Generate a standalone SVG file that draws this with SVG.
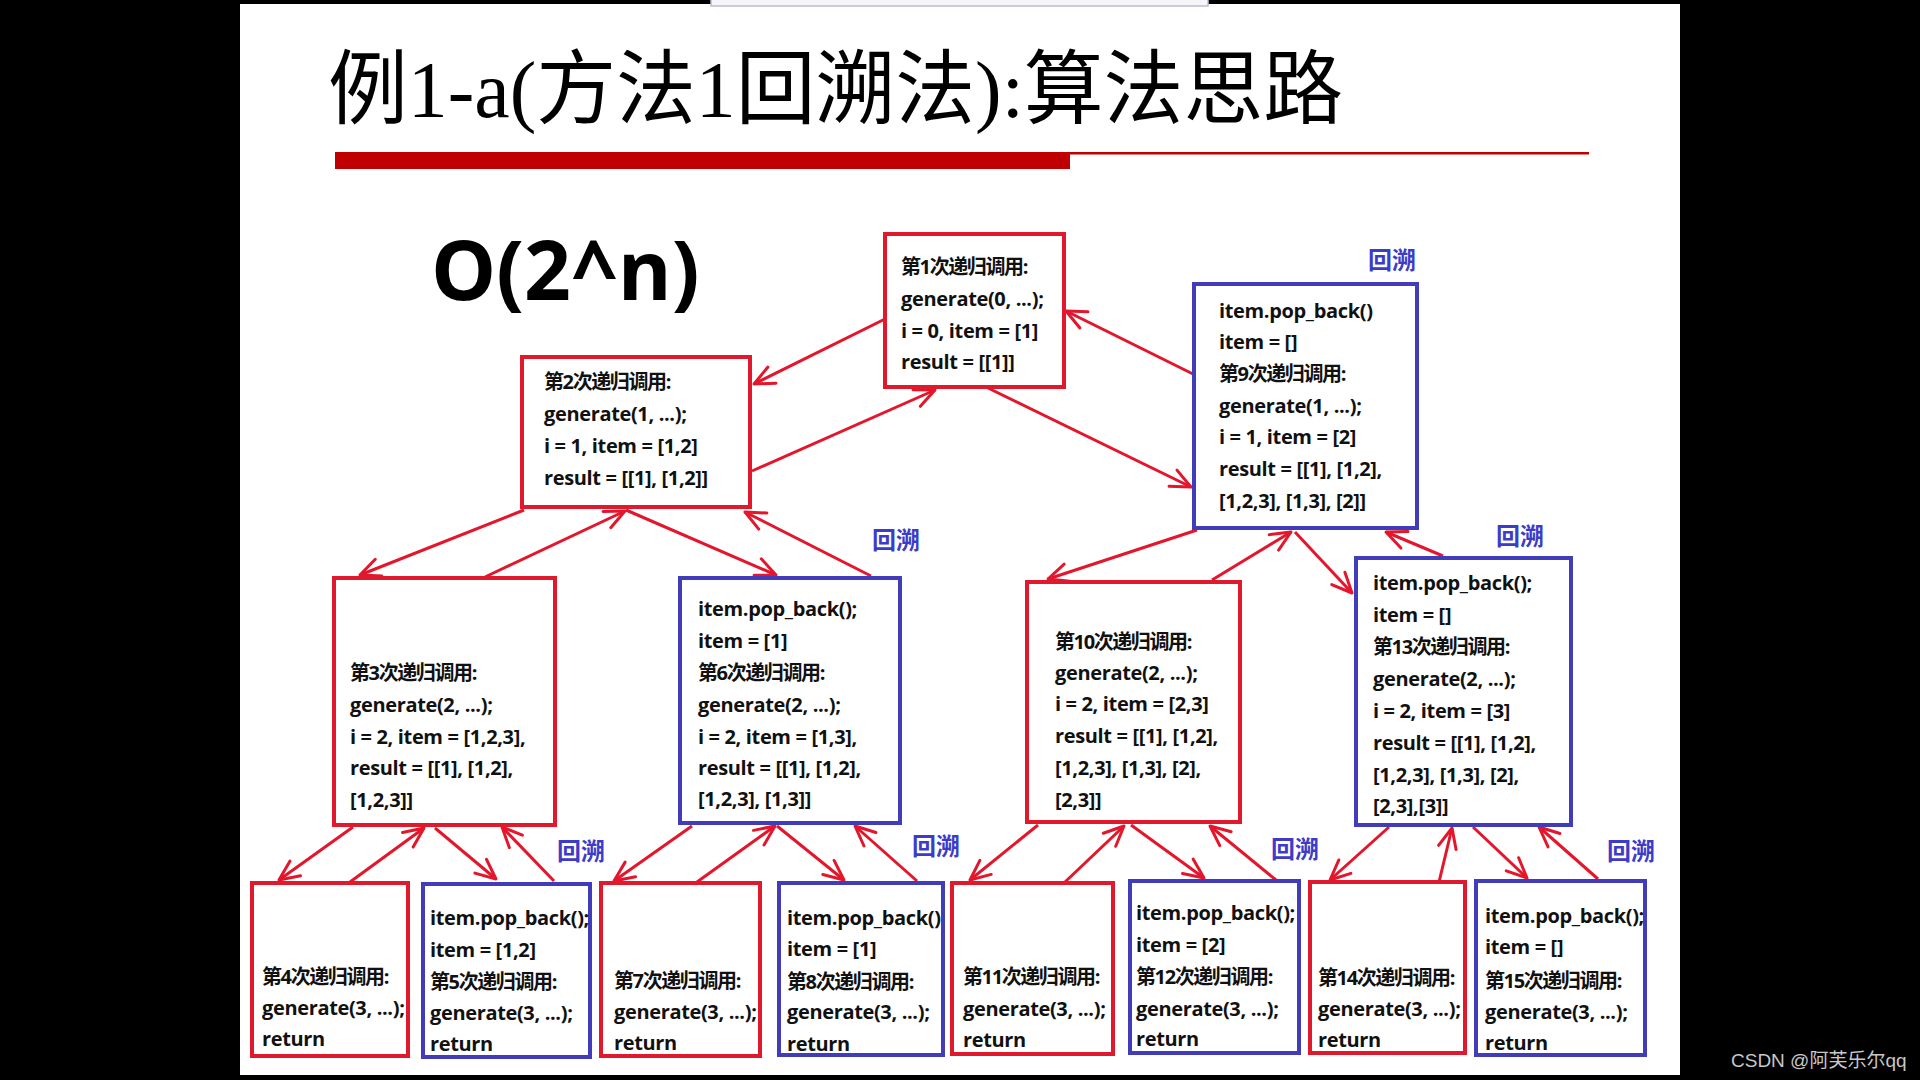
<svg xmlns="http://www.w3.org/2000/svg" width="1920" height="1080" viewBox="0 0 1920 1080">
<style>
.bg{fill:#000}
.slide{fill:#fff}
.title{font-family:"Liberation Serif","Noto Sans CJK SC",serif;font-size:81px;fill:#000}
.big{font-family:"Open Sans","Liberation Sans",sans-serif;font-weight:bold;font-size:82px;fill:#000}
.rbox{fill:#fff;stroke:#E0192D;stroke-width:4}
.bbox{fill:#fff;stroke:#413CB9;stroke-width:4}
.t{font-family:"Open Sans","Noto Sans CJK SC",sans-serif;font-weight:bold;font-size:20px;letter-spacing:-0.35px;fill:#111}
.c{letter-spacing:-1.4px}
.lbl{font-family:"Noto Sans CJK SC",sans-serif;font-weight:bold;font-size:24px;fill:#3C3CC8}
.arr{stroke:#E3162C;stroke-width:3;fill:none;marker-end:url(#ah)}
.wm{font-family:"Liberation Sans","Noto Sans CJK SC",sans-serif;font-size:19px;fill:#c8c8c8}
</style>
<defs>
<marker id="ah" markerUnits="userSpaceOnUse" viewBox="-24 -13 28 26" markerWidth="28" markerHeight="26" refX="0" refY="0" orient="auto" overflow="visible">
<path d="M-20,-9 L0,0 L-20,9" fill="none" stroke="#E3162C" stroke-width="3" stroke-linecap="round" stroke-linejoin="round"/>
</marker>
</defs>
<rect class="bg" x="0" y="0" width="1920" height="1080"/>
<rect class="slide" x="240" y="4" width="1440" height="1071"/>
<rect x="711" y="-2" width="497" height="8" fill="#f6f6fa" stroke="#bcbcd2" stroke-width="1.5"/>

<g id="title">
<text class="title" x="328" y="117" textLength="1015" lengthAdjust="spacingAndGlyphs">例1-a(方法1回溯法):算法思路</text>
<rect x="335" y="152" width="735" height="17" fill="#C00000"/>
<rect x="1070" y="152" width="519" height="2.5" fill="#C00000"/>
</g>

<g id="complexity">
<text class="big" x="431" y="300">O(2^n)</text>
</g>

<g id="connectors">
<line class="arr" x1="885" y1="319" x2="754" y2="384"/>
<line class="arr" x1="752" y1="471" x2="935" y2="390"/>
<line class="arr" x1="988" y1="388" x2="1191" y2="487"/>
<line class="arr" x1="1193" y1="374" x2="1066" y2="311"/>
<line class="arr" x1="524" y1="510" x2="360" y2="575"/>
<line class="arr" x1="485" y1="577" x2="625" y2="511"/>
<line class="arr" x1="626" y1="510" x2="776" y2="575"/>
<line class="arr" x1="871" y1="576" x2="745" y2="512"/>
<line class="arr" x1="1197" y1="530" x2="1048" y2="579"/>
<line class="arr" x1="1212" y1="580" x2="1291" y2="532"/>
<line class="arr" x1="1295" y1="532" x2="1352" y2="593"/>
<line class="arr" x1="1443" y1="556" x2="1386" y2="532"/>
<line class="arr" x1="353" y1="827" x2="279" y2="880"/>
<line class="arr" x1="350" y1="882" x2="424" y2="828"/>
<line class="arr" x1="435" y1="828" x2="496" y2="879"/>
<line class="arr" x1="554" y1="881" x2="502" y2="827"/>
<line class="arr" x1="692" y1="826" x2="614" y2="881"/>
<line class="arr" x1="697" y1="882" x2="775" y2="826"/>
<line class="arr" x1="777" y1="826" x2="844" y2="880"/>
<line class="arr" x1="917" y1="881" x2="855" y2="826"/>
<line class="arr" x1="1038" y1="825" x2="970" y2="880"/>
<line class="arr" x1="1065" y1="882" x2="1124" y2="826"/>
<line class="arr" x1="1131" y1="825" x2="1204" y2="878"/>
<line class="arr" x1="1276" y1="880" x2="1210" y2="826"/>
<line class="arr" x1="1389" y1="827" x2="1330" y2="880"/>
<line class="arr" x1="1439" y1="882" x2="1452" y2="828"/>
<line class="arr" x1="1473" y1="827" x2="1527" y2="878"/>
<line class="arr" x1="1598" y1="879" x2="1539" y2="827"/>
</g>

<g id="labels">
<text class="lbl" x="1368" y="269">回溯</text>
<text class="lbl" x="872" y="549">回溯</text>
<text class="lbl" x="1496" y="545">回溯</text>
<text class="lbl" x="557" y="860">回溯</text>
<text class="lbl" x="912" y="855">回溯</text>
<text class="lbl" x="1271" y="858">回溯</text>
<text class="lbl" x="1607" y="860">回溯</text>
</g>

<g id="call1">
<rect class="rbox" x="885" y="234" width="179" height="153"/>
<text class="t c" x="901" y="274">第1次递归调用:</text>
<text class="t" x="901" y="306">generate(0, ...);</text>
<text class="t" x="901" y="338">i = 0, item = [1]</text>
<text class="t" x="901" y="369">result = [[1]]</text>
</g>

<g id="call2">
<rect class="rbox" x="522" y="357" width="228" height="150"/>
<text class="t c" x="544" y="389">第2次递归调用:</text>
<text class="t" x="544" y="421">generate(1, ...);</text>
<text class="t" x="544" y="453">i = 1, item = [1,2]</text>
<text class="t" x="544" y="485">result = [[1], [1,2]]</text>
</g>

<g id="call9">
<rect class="bbox" x="1194" y="284" width="223" height="244"/>
<text class="t" x="1219" y="318">item.pop_back()</text>
<text class="t" x="1219" y="349">item = []</text>
<text class="t c" x="1219" y="381">第9次递归调用:</text>
<text class="t" x="1219" y="413">generate(1, ...);</text>
<text class="t" x="1219" y="444">i = 1, item = [2]</text>
<text class="t" x="1219" y="476">result = [[1], [1,2],</text>
<text class="t" x="1219" y="508">[1,2,3], [1,3], [2]]</text>
</g>

<g id="call3">
<rect class="rbox" x="334" y="578" width="221" height="247"/>
<text class="t c" x="350" y="680">第3次递归调用:</text>
<text class="t" x="350" y="712">generate(2, ...);</text>
<text class="t" x="350" y="744">i = 2, item = [1,2,3],</text>
<text class="t" x="350" y="775">result = [[1], [1,2],</text>
<text class="t" x="350" y="807">[1,2,3]]</text>
</g>

<g id="call6">
<rect class="bbox" x="680" y="578" width="220" height="245"/>
<text class="t" x="698" y="616">item.pop_back();</text>
<text class="t" x="698" y="648">item = [1]</text>
<text class="t c" x="698" y="680">第6次递归调用:</text>
<text class="t" x="698" y="712">generate(2, ...);</text>
<text class="t" x="698" y="744">i = 2, item = [1,3],</text>
<text class="t" x="698" y="775">result = [[1], [1,2],</text>
<text class="t" x="698" y="806">[1,2,3], [1,3]]</text>
</g>

<g id="call10">
<rect class="rbox" x="1027" y="582" width="213" height="240"/>
<text class="t c" x="1055" y="649">第10次递归调用:</text>
<text class="t" x="1055" y="680">generate(2, ...);</text>
<text class="t" x="1055" y="711">i = 2, item = [2,3]</text>
<text class="t" x="1055" y="743">result = [[1], [1,2],</text>
<text class="t" x="1055" y="775">[1,2,3], [1,3], [2],</text>
<text class="t" x="1055" y="807">[2,3]]</text>
</g>

<g id="call13">
<rect class="bbox" x="1356" y="558" width="215" height="267"/>
<text class="t" x="1373" y="590">item.pop_back();</text>
<text class="t" x="1373" y="622">item = []</text>
<text class="t c" x="1373" y="654">第13次递归调用:</text>
<text class="t" x="1373" y="686">generate(2, ...);</text>
<text class="t" x="1373" y="718">i = 2, item = [3]</text>
<text class="t" x="1373" y="750">result = [[1], [1,2],</text>
<text class="t" x="1373" y="782">[1,2,3], [1,3], [2],</text>
<text class="t" x="1373" y="813">[2,3],[3]]</text>
</g>

<g id="call4">
<rect class="rbox" x="252" y="883" width="156" height="173"/>
<text class="t c" x="262" y="984">第4次递归调用:</text>
<text class="t" x="262" y="1015">generate(3, ...);</text>
<text class="t" x="262" y="1046">return</text>
</g>

<g id="call5">
<rect class="bbox" x="423" y="884" width="167" height="173"/>
<text class="t" x="430" y="925">item.pop_back();</text>
<text class="t" x="430" y="957">item = [1,2]</text>
<text class="t c" x="430" y="989">第5次递归调用:</text>
<text class="t" x="430" y="1020">generate(3, ...);</text>
<text class="t" x="430" y="1051">return</text>
</g>

<g id="call7">
<rect class="rbox" x="601" y="883" width="159" height="173"/>
<text class="t c" x="614" y="988">第7次递归调用:</text>
<text class="t" x="614" y="1019">generate(3, ...);</text>
<text class="t" x="614" y="1050">return</text>
</g>

<g id="call8">
<rect class="bbox" x="779" y="883" width="164" height="172"/>
<text class="t" x="787" y="925">item.pop_back()</text>
<text class="t" x="787" y="956">item = [1]</text>
<text class="t c" x="787" y="989">第8次递归调用:</text>
<text class="t" x="787" y="1019">generate(3, ...);</text>
<text class="t" x="787" y="1051">return</text>
</g>

<g id="call11">
<rect class="rbox" x="952" y="883" width="161" height="171"/>
<text class="t c" x="963" y="984">第11次递归调用:</text>
<text class="t" x="963" y="1016">generate(3, ...);</text>
<text class="t" x="963" y="1047">return</text>
</g>

<g id="call12">
<rect class="bbox" x="1130" y="881" width="169" height="172"/>
<text class="t" x="1136" y="920">item.pop_back();</text>
<text class="t" x="1136" y="952">item = [2]</text>
<text class="t c" x="1136" y="984">第12次递归调用:</text>
<text class="t" x="1136" y="1016">generate(3, ...);</text>
<text class="t" x="1136" y="1046">return</text>
</g>

<g id="call14">
<rect class="rbox" x="1310" y="882" width="155" height="171"/>
<text class="t c" x="1318" y="985">第14次递归调用:</text>
<text class="t" x="1318" y="1016">generate(3, ...);</text>
<text class="t" x="1318" y="1047">return</text>
</g>

<g id="call15">
<rect class="bbox" x="1476" y="881" width="169" height="174"/>
<text class="t" x="1485" y="923">item.pop_back();</text>
<text class="t" x="1485" y="954">item = []</text>
<text class="t c" x="1485" y="988">第15次递归调用:</text>
<text class="t" x="1485" y="1019">generate(3, ...);</text>
<text class="t" x="1485" y="1050">return</text>
</g>

<text class="wm" x="1731" y="1067">CSDN @阿芙乐尔qq</text>
</svg>
